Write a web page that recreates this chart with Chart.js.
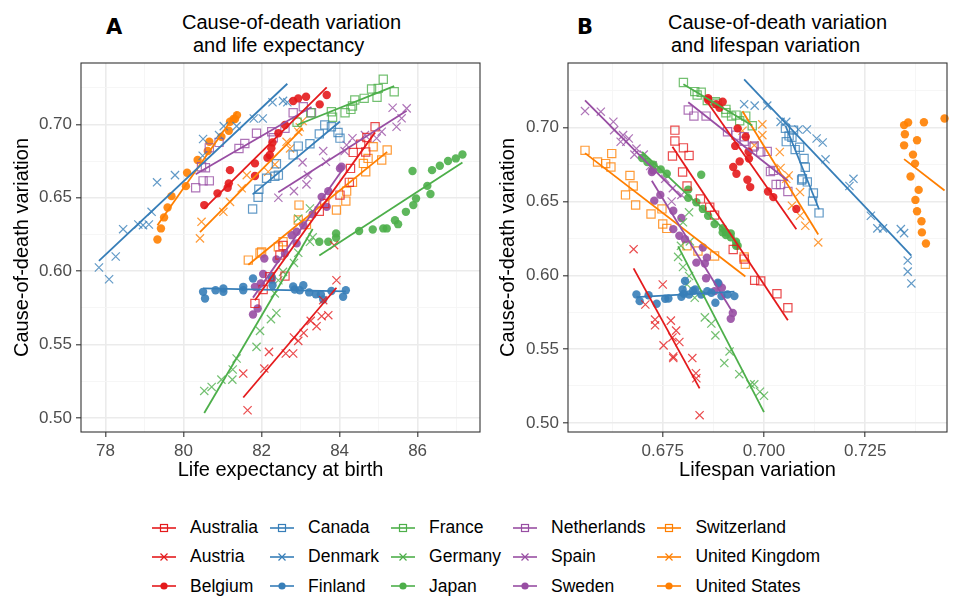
<!DOCTYPE html>
<html>
<head>
<meta charset="utf-8">
<script src="https://cdn.jsdelivr.net/npm/chart.js@4.4.0/dist/chart.umd.min.js"></script>
<style>
    body { margin: 0; width: 954px; height: 596px; background: #fff; position: relative; overflow: hidden;
           font-family: "Liberation Sans", Arial, sans-serif; }
    canvas { position: absolute; top: 0; }
    #chartA { left: 0; }
    #chartB { left: 480px; }
    .tag { position: absolute; font-family: "DejaVu Sans", sans-serif; font-weight: bold; font-size: 21px; line-height: 1; }
    .ttl { position: absolute; font-size: 20px; line-height: 1; color: #000; white-space: pre; }
    #legend { position: absolute; left: 152px; top: 513px; display: grid; grid-auto-flow: column;
              grid-template-rows: repeat(3, 29.3px); column-gap: 12px; font-size: 17.5px; color: #000; }
    .item { display: flex; align-items: center; }
    .item svg { margin-right: 14px; }
</style>
</head>
<body>
<div class="tag" style="left:106px; top:17px">A</div>
<div class="ttl" style="left:182px; top:12px">Cause-of-death variation</div>
<div class="ttl" style="left:193px; top:35px">and life expectancy</div>
<div class="tag" style="left:577px; top:17px">B</div>
<div class="ttl" style="left:668px; top:12px">Cause-of-death variation</div>
<div class="ttl" style="left:671px; top:35px">and lifespan variation</div>
<canvas id="chartA" width="490" height="490"></canvas>
<canvas id="chartB" width="474" height="490"></canvas>
<div id="legend"></div>
<script>
// le = life expectancy at birth, lv = lifespan variation, cod = cause-of-death variation (one entry per year)
const countries = ['Australia', 'Austria', 'Belgium', 'Canada', 'Denmark', 'Finland', 'France', 'Germany',
    'Japan', 'Netherlands', 'Spain', 'Sweden', 'Switzerland', 'United Kingdom', 'United States'];

const australiaLE = [81.83, 82.04, 82.21, 82.47, 82.55, 82.60, 83.48, 83.62, 84.01, 84.25, 84.28, 84.35, 84.54, 84.67, 84.70, 84.91];
const australiaLV = [0.7059, 0.7032, 0.6992, 0.6951, 0.6924, 0.6977, 0.6878, 0.6866, 0.6843, 0.6810, 0.6799, 0.6774, 0.6801, 0.6815, 0.6780, 0.6780];
const australiaCoD = [0.578, 0.5875, 0.5962, 0.611, 0.6175, 0.5966, 0.6408, 0.6461, 0.6518, 0.6605, 0.670, 0.6809, 0.6864, 0.6812, 0.691, 0.6984];

const austriaLE = [81.53, 81.64, 82.07, 82.19, 82.62, 82.81, 82.83, 82.94, 83.08, 83.26, 83.41, 83.54, 83.58, 83.71, 83.86, 83.92];
const austriaLV = [0.6833, 0.6841, 0.6832, 0.6776, 0.6823, 0.6776, 0.6791, 0.6752, 0.6774, 0.6731, 0.6783, 0.6770, 0.6707, 0.6731, 0.6678, 0.6750];
const austriaCoD = [0.5302, 0.5052, 0.5336, 0.545, 0.5439, 0.5439, 0.5548, 0.5525, 0.5579, 0.5661, 0.5625, 0.5693, 0.5802, 0.570, 0.6177, 0.5938];

const belgiumLE = [80.53, 80.87, 81.13, 81.16, 81.19, 81.83, 81.83, 82.15, 82.21, 82.25, 82.28, 82.43, 82.60, 82.81, 82.94, 83.14, 83.49, 83.67];
const belgiumLV = [0.708, 0.7023, 0.701, 0.6966, 0.6932, 0.6959, 0.6924, 0.694, 0.6963, 0.6962, 0.6929, 0.6955, 0.6935, 0.6882, 0.6898, 0.6862, 0.689, 0.6862];
const belgiumCoD = [0.645, 0.653, 0.6568, 0.6598, 0.6688, 0.6648, 0.6734, 0.6772, 0.6791, 0.6837, 0.6877, 0.6939, 0.6996, 0.7159, 0.7177, 0.7188, 0.7136, 0.720];

const canadaLE = [81.77, 81.91, 81.93, 82.13, 82.34, 82.38, 82.43, 82.81, 82.94, 83.24, 83.48, 83.62, 83.79, 83.96, 84.01];
const canadaLV = [0.7136, 0.7120, 0.7122, 0.7107, 0.7093, 0.7102, 0.7095, 0.7099, 0.7077, 0.7088, 0.7069, 0.7053, 0.7073, 0.7062, 0.7055];
const canadaCoD = [0.6423, 0.6503, 0.6558, 0.6633, 0.6646, 0.6732, 0.6654, 0.6792, 0.6852, 0.6868, 0.6935, 0.6996, 0.6984, 0.6945, 0.6906];

const denmarkLE = [77.83, 78.09, 78.26, 78.45, 78.84, 78.96, 79.11, 79.18, 79.32, 79.78, 80.49, 80.50, 80.91, 81.03, 81.36, 81.80, 82.03, 82.28, 82.55, 82.66];
const denmarkLV = [0.7355, 0.7364, 0.7355, 0.7346, 0.7294, 0.7338, 0.7280, 0.7264, 0.7211, 0.7221, 0.7152, 0.7145, 0.7130, 0.7106, 0.7085, 0.7055, 0.7041, 0.7008, 0.6951, 0.6977];
const denmarkCoD = [0.6025, 0.5945, 0.610, 0.6286, 0.6318, 0.6313, 0.6318, 0.6404, 0.6605, 0.6654, 0.6786, 0.690, 0.6927, 0.6988, 0.6988, 0.704, 0.704, 0.715, 0.716, 0.715];

const finlandLE = [80.50, 80.55, 80.82, 81.02, 81.02, 81.53, 81.53, 81.78, 82.26, 82.28, 82.81, 82.85, 82.98, 83.07, 83.22, 83.39, 83.52, 83.58, 83.79, 84.09, 84.16];
const finlandLV = [0.6927, 0.6880, 0.6910, 0.6870, 0.6895, 0.6860, 0.6845, 0.6886, 0.6805, 0.6830, 0.6825, 0.6802, 0.6815, 0.6799, 0.6796, 0.6764, 0.6756, 0.6735, 0.6715, 0.6693, 0.6685];
const finlandCoD = [0.5859, 0.5814, 0.587, 0.5882, 0.5859, 0.5893, 0.587, 0.595, 0.5961, 0.5904, 0.5896, 0.5875, 0.587, 0.5904, 0.5855, 0.5843, 0.5841, 0.5807, 0.5865, 0.5825, 0.587];

const franceLE = [82.91, 83.26, 83.79, 83.82, 84.14, 84.29, 84.33, 84.39, 84.63, 84.82, 84.96, 84.99, 85.12, 85.40];
const franceLV = [0.6971, 0.6955, 0.6931, 0.6940, 0.6920, 0.6906, 0.6906, 0.6884, 0.6880, 0.6845, 0.6860, 0.6829, 0.6801, 0.6835];
const franceCoD = [0.7014, 0.7079, 0.7086, 0.7048, 0.7079, 0.7102, 0.7125, 0.7166, 0.7177, 0.7241, 0.7184, 0.7245, 0.7307, 0.7222];

const germanyLE = [80.53, 80.72, 80.97, 81.25, 81.26, 81.36, 81.87, 81.96, 82.24, 82.34, 82.38, 82.43, 82.55, 82.83, 82.94, 82.94, 83.24, 83.24, 83.31];
const germanyLV = [0.7000, 0.6990, 0.6976, 0.6967, 0.6939, 0.6902, 0.6915, 0.6880, 0.6870, 0.6829, 0.6854, 0.6810, 0.6815, 0.6800, 0.6788, 0.6800, 0.6795, 0.6815, 0.6817];
const germanyCoD = [0.5184, 0.5211, 0.5261, 0.5261, 0.533, 0.5405, 0.5484, 0.5593, 0.5673, 0.5848, 0.5715, 0.5938, 0.5995, 0.6056, 0.6125, 0.6359, 0.620, 0.6427, 0.623];

const japanLE = [83.48, 83.71, 83.91, 83.91, 84.50, 84.85, 85.12, 85.21, 85.42, 85.50, 85.70, 85.87, 85.89, 85.96, 86.25, 86.33, 86.37, 86.57, 86.78, 86.98, 87.15];
const japanLV = [0.6935, 0.6931, 0.6931, 0.6918, 0.6906, 0.6918, 0.6906, 0.6898, 0.6878, 0.6898, 0.6862, 0.6845, 0.6849, 0.6833, 0.6813, 0.6813, 0.6760, 0.6745, 0.6727, 0.6712, 0.6699];
const japanCoD = [0.620, 0.620, 0.6227, 0.6257, 0.6273, 0.6284, 0.6291, 0.6291, 0.6347, 0.632, 0.6404, 0.6682, 0.645, 0.6495, 0.6581, 0.6525, 0.6688, 0.6718, 0.675, 0.6768, 0.6795];

const netherlandsLE = [80.31, 80.46, 80.50, 80.56, 80.66, 80.66, 80.91, 81.42, 81.57, 81.87, 82.26, 82.30, 82.60, 82.81, 83.07, 83.28];
const netherlandsLV = [0.7059, 0.7023, 0.7041, 0.7016, 0.7030, 0.7008, 0.6976, 0.6992, 0.6973, 0.6951, 0.6931, 0.6951, 0.6910, 0.6857, 0.6813, 0.6827];
const netherlandsCoD = [0.6568, 0.6711, 0.6615, 0.6704, 0.6615, 0.684, 0.6877, 0.6836, 0.687, 0.6939, 0.695, 0.6909, 0.6973, 0.7079, 0.712, 0.7079];

const spainLE = [82.43, 82.83, 83.05, 83.15, 83.19, 83.58, 83.65, 84.13, 84.18, 84.33, 84.65, 84.95, 85.08, 85.36, 85.46, 85.59, 85.72];
const spainLV = [0.6772, 0.6796, 0.6719, 0.6775, 0.6756, 0.6703, 0.6725, 0.6680, 0.6685, 0.6646, 0.6666, 0.6660, 0.6652, 0.6558, 0.6630, 0.6628, 0.6597];
const spainCoD = [0.650, 0.6545, 0.6741, 0.6591, 0.6654, 0.6818, 0.6745, 0.6818, 0.6859, 0.6905, 0.6927, 0.6905, 0.695, 0.7113, 0.6984, 0.7041, 0.7109];

const swedenLE = [81.78, 81.83, 81.90, 81.98, 82.04, 82.07, 82.26, 82.38, 82.60, 82.77, 82.90, 82.90, 83.07, 83.31, 83.54, 83.67, 83.71, 84.01, 84.05];
const swedenLV = [0.6918, 0.6878, 0.6923, 0.6896, 0.6857, 0.6833, 0.6888, 0.6854, 0.6859, 0.6805, 0.6849, 0.6791, 0.6776, 0.6796, 0.6729, 0.6776, 0.6744, 0.6723, 0.6726];
const swedenCoD = [0.5705, 0.5893, 0.5745, 0.5916, 0.598, 0.6086, 0.5943, 0.608, 0.612, 0.6245, 0.6189, 0.6268, 0.6313, 0.6388, 0.6506, 0.6438, 0.6545, 0.670, 0.6711];

const switzerlandLE = [81.66, 81.96, 82.00, 82.43, 82.55, 82.94, 82.96, 83.15, 83.92, 84.16, 84.18, 84.33, 84.61, 84.67, 84.73, 84.86, 85.08, 85.22];
const switzerlandLV = [0.6954, 0.6951, 0.6878, 0.6837, 0.6810, 0.6750, 0.6748, 0.6760, 0.6721, 0.6683, 0.6658, 0.6677, 0.6622, 0.6669, 0.6589, 0.6558, 0.6609, 0.6624];
const switzerlandCoD = [0.6075, 0.6124, 0.6131, 0.6165, 0.620, 0.6348, 0.645, 0.6318, 0.6416, 0.6477, 0.6545, 0.6605, 0.6734, 0.6677, 0.6768, 0.6847, 0.6757, 0.6825];

const ukLE = [80.42, 80.46, 81.02, 81.19, 81.49, 81.62, 82.17, 82.34, 82.64, 82.73, 82.94, 82.98, 83.05];
const ukLV = [0.7134, 0.7102, 0.7089, 0.7069, 0.7089, 0.7055, 0.7061, 0.7041, 0.6976, 0.7039, 0.6996, 0.6947, 0.6996];
const ukCoD = [0.6223, 0.6336, 0.6404, 0.6472, 0.6564, 0.6654, 0.6677, 0.6727, 0.6881, 0.6836, 0.695, 0.698, 0.7023];

const usLE = [79.33, 79.42, 79.50, 79.59, 79.69, 80.06, 80.09, 80.36, 80.62, 80.66, 80.97, 81.16, 81.19, 81.28, 81.32, 81.37];
const usLV = [0.7400, 0.7390, 0.7389, 0.7378, 0.7374, 0.7382, 0.7362, 0.7373, 0.7368, 0.7346, 0.7378, 0.7348, 0.7346, 0.7395, 0.7356, 0.7446];
const usCoD = [0.6216, 0.6291, 0.6366, 0.6434, 0.6511, 0.6579, 0.667, 0.6757, 0.6818, 0.6881, 0.6915, 0.6956, 0.7018, 0.7037, 0.7036, 0.7063];

// axis ticks
const leTicks = [78, 80, 82, 84, 86];
const leMinor = [79, 81, 83, 85, 87];
const lvTicks = [0.675, 0.700, 0.725];
const lvMinor = [0.6625, 0.6875, 0.7125, 0.7375];
const codTicks = [0.50, 0.55, 0.60, 0.65, 0.70];
const codMinor = [0.525, 0.575, 0.625, 0.675, 0.725];

const series = {
    'Australia': [australiaLE, australiaLV, australiaCoD],
    'Austria': [austriaLE, austriaLV, austriaCoD],
    'Belgium': [belgiumLE, belgiumLV, belgiumCoD],
    'Canada': [canadaLE, canadaLV, canadaCoD],
    'Denmark': [denmarkLE, denmarkLV, denmarkCoD],
    'Finland': [finlandLE, finlandLV, finlandCoD],
    'France': [franceLE, franceLV, franceCoD],
    'Germany': [germanyLE, germanyLV, germanyCoD],
    'Japan': [japanLE, japanLV, japanCoD],
    'Netherlands': [netherlandsLE, netherlandsLV, netherlandsCoD],
    'Spain': [spainLE, spainLV, spainCoD],
    'Sweden': [swedenLE, swedenLV, swedenCoD],
    'Switzerland': [switzerlandLE, switzerlandLV, switzerlandCoD],
    'United Kingdom': [ukLE, ukLV, ukCoD],
    'United States': [usLE, usLV, usCoD],
};

// colour per group of three, shape within the group
const palette = ['#E41A1C', '#377EB8', '#4DAF4A', '#984EA3', '#FF7F00'];
const shapes = ['rect', 'crossRot', 'circle'];

function styleOf(i) {
    return { color: palette[Math.floor(i / 3)], shape: shapes[i % 3] };
}

// ordinary least squares of y on x, drawn over the range of x
function fitLine(xs, ys) {
    const n = xs.length;
    const mx = xs.reduce((a, b) => a + b, 0) / n;
    const my = ys.reduce((a, b) => a + b, 0) / n;
    let sxy = 0, sxx = 0;
    xs.forEach((x, k) => { sxy += (x - mx) * (ys[k] - my); sxx += (x - mx) ** 2; });
    const b = sxy / sxx;
    const lo = Math.min(...xs), hi = Math.max(...xs);
    return [{ x: lo, y: my + b * (lo - mx) }, { x: hi, y: my + b * (hi - mx) }];
}

function buildDatasets(xIndex) {
    const points = [], lines = [];
    countries.forEach((name, i) => {
        const st = styleOf(i);
        const xs = series[name][xIndex];
        const ys = series[name][2];
        const open = st.shape !== 'circle';
        points.push({
            label: name,
            data: xs.map((x, k) => ({ x: x, y: ys[k] })),
            pointStyle: st.shape,
            pointRadius: open ? 5.8 : 4.2,
            pointBackgroundColor: open ? 'rgba(0,0,0,0)' : st.color + 'E6',
            pointBorderColor: st.color + (open ? 'C8' : 'E6'),
            pointBorderWidth: open ? 1.2 : 0,
            clip: false,
            order: 1,
        });
        lines.push({
            type: 'line',
            label: name + ' fit',
            data: fitLine(xs, ys),
            borderColor: st.color,
            borderWidth: 1.8,
            pointRadius: 0,
            showLine: true,
            fill: false,
            order: 0,
        });
    });
    return lines.concat(points);
}

function tickList(major, minor) {
    return major.map(v => ({ value: v, isMajor: true }))
        .concat(minor.map(v => ({ value: v, isMajor: false })))
        .sort((a, b) => a.value - b.value);
}

const panelBorder = {
    id: 'panelBorder',
    afterDraw(chart) {
        const { ctx, chartArea: a } = chart;
        ctx.save();
        ctx.strokeStyle = '#333333';
        ctx.lineWidth = 1.1;
        ctx.strokeRect(a.left, a.top, a.right - a.left, a.bottom - a.top);
        ctx.restore();
    }
};

function axis(opts) {
    return {
        type: 'linear',
        position: opts.position,
        min: opts.min,
        max: opts.max,
        afterBuildTicks: s => { s.ticks = tickList(opts.major, opts.minor); },
        afterFit: opts.fit,
        border: { display: false },
        grid: {
            color: c => (c.tick && c.tick.isMajor) ? '#EBEBEB' : '#F5F5F5',
            lineWidth: c => (c.tick && c.tick.isMajor) ? 1.6 : 0.9,
            tickLength: 5,
            tickWidth: 1.1,
            tickColor: c => (c.tick && c.tick.isMajor) ? '#333333' : 'rgba(0,0,0,0)',
        },
        ticks: {
            autoSkip: false,
            maxRotation: 0,
            padding: 4,
            color: '#4D4D4D',
            font: { family: '"Liberation Sans", Arial, sans-serif', size: 17 },
            callback: (v, i, ticks) => ticks[i].isMajor ? v.toFixed(opts.digits) : '',
        },
        title: {
            display: true,
            text: opts.title,
            color: '#000',
            font: { family: '"Liberation Sans", Arial, sans-serif', size: 20 },
            padding: opts.titlePad,
        },
    };
}

function makePanel(id, xIndex, xOpts, yOpts, rightPad) {
    new Chart(document.getElementById(id), {
        type: 'scatter',
        data: { datasets: buildDatasets(xIndex) },
        options: {
            responsive: false,
            animation: false,
            events: [],
            layout: { padding: { top: 63, right: rightPad, bottom: 0, left: 0 } },
            plugins: { legend: { display: false }, tooltip: { enabled: false } },
            scales: { x: axis(xOpts), y: axis(yOpts) },
        },
        plugins: [panelBorder],
    });
}

makePanel('chartA', 0,
    { position: 'bottom', min: 77.37, max: 87.6, major: leTicks, minor: leMinor, digits: 0,
      title: 'Life expectancy at birth', titlePad: { top: 0, bottom: 8 }, fit: s => { s.height = 58; } },
    { position: 'left', min: 0.4904, max: 0.7418, major: codTicks, minor: codMinor, digits: 2,
      title: 'Cause-of-death variation', titlePad: { top: 10, bottom: 0 }, fit: s => { s.width = 81; } },
    10);

makePanel('chartB', 1,
    { position: 'bottom', min: 0.6516, max: 0.7452, major: lvTicks, minor: lvMinor, digits: 3,
      title: 'Lifespan variation', titlePad: { top: 0, bottom: 8 }, fit: s => { s.height = 58; } },
    { position: 'left', min: 0.4938, max: 0.7439, major: codTicks, minor: codMinor, digits: 2,
      title: 'Cause-of-death variation', titlePad: { top: 16, bottom: 0 }, fit: s => { s.width = 88; } },
    2);

// legend: five columns of three, key line with the marker in the middle
const legend = document.getElementById('legend');
countries.forEach((name, i) => {
    const st = styleOf(i);
    let mark;
    if (st.shape === 'rect') {
        mark = `<rect x="8.5" y="2.5" width="7" height="7" fill="none" stroke="${st.color}" stroke-width="1.2"/>`;
    } else if (st.shape === 'crossRot') {
        mark = `<path d="M8.5 2.5 L15.5 9.5 M15.5 2.5 L8.5 9.5" stroke="${st.color}" stroke-width="1.2"/>`;
    } else {
        mark = `<circle cx="12" cy="6" r="3.6" fill="${st.color}"/>`;
    }
    const item = document.createElement('div');
    item.className = 'item';
    item.innerHTML = `<svg width="24" height="12"><line x1="0" y1="6" x2="24" y2="6" stroke="${st.color}" stroke-width="1.6"/>${mark}</svg><span>${name}</span>`;
    legend.appendChild(item);
});
</script>
</body>
</html>
